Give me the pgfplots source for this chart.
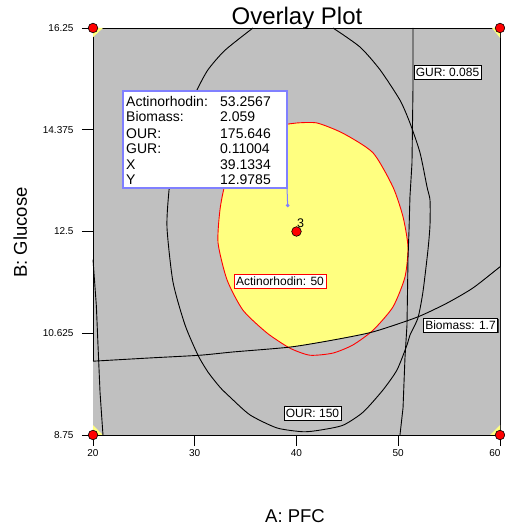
\documentclass[border=0pt]{standalone}
\usepackage{fontspec}
\setmainfont{Liberation Sans}
\usepackage{pgfplots}
\pgfplotsset{compat=1.18}
\usetikzlibrary{shadows}
\definecolor{bg}{RGB}{192,192,192}
\definecolor{yel}{RGB}{255,255,128}
\definecolor{tipblue}{RGB}{128,128,255}
\begin{document}
\begin{tikzpicture}[x=1pt,y=1pt]
\useasboundingbox (0,0) rectangle (504,527);
\begin{axis}[at={(93pt,92pt)}, anchor=south west,
  width=407pt, height=407pt, scale only axis,
  xmin=20, xmax=60, ymin=8.75, ymax=16.25, clip=false,
  axis background/.style={fill=bg},
  xtick={20,30,40,50,60}, xticklabels={20,30,40,50,\hspace*{-10pt}60},
  ytick={8.75,10.625,12.5,14.375,16.25},
  yticklabels={8.75,10.625,12.5,14.375,16.25},
  tick align=outside, tick pos=left, major tick length=11pt,
  tick style={black, line width=0.8pt},
  ticklabel style={font=\fontsize{10}{12}\selectfont},
  yticklabel style={xshift=-5pt},
  axis line style={line width=0.8pt}]
% yellow feasible region (inside Actinorhodin 50)
\addplot[fill=yel, draw=none, smooth, tension=0.4] coordinates {
(40.05,14.50) (42.01,14.50) (44.57,14.31) (47.52,13.95) (49.48,13.32) (50.47,12.77) (50.96,12.21) (50.66,11.66) (49.48,11.11) (47.52,10.68) (45.55,10.41) (43.59,10.26) (41.33,10.22) (39.36,10.35) (37.10,10.63) (34.74,11.05) (33.17,11.61) (32.29,12.29) (32.48,12.90) (32.97,13.36) (34.05,13.82) (35.92,14.22) (38.08,14.44) (40.05,14.50)} -- cycle;
% grey below biomass 1.7
\addplot[fill=bg, draw=none] coordinates {
(20,10.11) (25.60,10.17) (30.52,10.22) (33.76,10.28) (39.36,10.37) (43.59,10.50) (47.52,10.65) (51.84,10.92) (54.79,11.18) (57.35,11.46) (60,11.85) (60,8.75) (20,8.75)} -- cycle;
% corner triangles
\addplot[fill=yel, draw=none] coordinates {(20,16.25) (20.98,16.25) (20,16.08)} -- cycle;
\addplot[fill=yel, draw=none] coordinates {(59.21,16.25) (60,16.25) (60,16.07)} -- cycle;
\addplot[fill=yel, draw=none] coordinates {(20,8.93) (20,8.75) (20.98,8.75)} -- cycle;
\addplot[fill=yel, draw=none] coordinates {(60,8.93) (60,8.75) (59.02,8.75)} -- cycle;
% Actinorhodin 50 contour
\addplot[red, line width=0.9pt, smooth, tension=0.4] coordinates {
(40.05,14.50) (42.01,14.50) (44.57,14.31) (47.52,13.95) (49.48,13.32) (50.47,12.77) (50.96,12.21) (50.66,11.66) (49.48,11.11) (47.52,10.68) (45.55,10.41) (43.59,10.26) (41.33,10.22) (39.36,10.35) (37.10,10.63) (34.74,11.05) (33.17,11.61) (32.29,12.29) (32.48,12.90) (32.97,13.36) (34.05,13.82) (35.92,14.22) (38.08,14.44) (40.05,14.50)};
% Biomass 1.7
\addplot[black, line width=0.9pt, smooth, tension=0.4] coordinates {
(20,10.11) (25.60,10.17) (30.52,10.22) (33.76,10.28) (39.36,10.37) (43.59,10.50) (47.52,10.65) (51.84,10.92) (54.79,11.18) (57.35,11.46) (60,11.85)};
% OUR 150
\addplot[black, line width=0.9pt, smooth, tension=0.4] coordinates {
(35.72,16.25) (32.97,15.84) (31.30,15.48) (30.22,15.11) (29.34,14.74) (28.55,14.28) (27.86,13.82) (27.47,13.26) (27.27,12.58) (27.86,11.57) (29.04,10.78) (30.32,10.22) (31.30,9.91) (32.48,9.63) (33.46,9.45) (35.43,9.12) (38.08,8.88) (40.64,8.81) (42.31,8.84) (44.57,8.93) (46.54,9.17) (48.50,9.58) (49.88,9.95) (50.86,10.41) (51.15,10.59) (51.94,10.91) (52.43,11.39) (52.92,12.16) (53.12,12.62) (53.12,13.08) (52.83,13.32) (52.14,13.95) (51.15,14.50) (50.17,14.92) (48.21,15.48) (46.24,15.90) (43.59,16.25)};
% GUR 0.085 (right branch)
\addplot[black, line width=0.9pt] coordinates {
(51.45,16.25) (51.45,15.16) (51.35,13.76) (51.15,13.14) (51.06,12.53) (50.96,12.01) (50.86,10.78) (50.66,10.17) (50.47,9.25) (50.17,8.75)};
% GUR 0.085 (left branch)
\addplot[black, line width=0.9pt] coordinates {
(20,11.98) (20.33,11.13) (20.49,10.41) (20.69,9.54) (20.98,8.75)};
% design points
\addplot[only marks, mark=*, mark size=4.8pt, mark options={fill=red, draw=black, line width=0.6pt}] coordinates {
(20,8.75) (20,16.25) (60,8.75) (60,16.25) (40,12.5)};
% tooltip pointer
\addplot[tipblue, line width=1pt, mark=*, mark size=1.2pt, mark indices={2}] coordinates {(39.07,13.30) (39.13,12.98)};
\end{axis}
% title and axis labels
\node[anchor=base, font=\fontsize{24}{28}\selectfont] at (297,502) {Overlay Plot};
\node[anchor=base, font=\fontsize{18.5}{22}\selectfont] at (295,5) {A: PFC};
\node[anchor=base, rotate=90, font=\fontsize{18.5}{22}\selectfont] at (27,294.5) {B: Glucose};
% point label
\node[anchor=base west, inner sep=0, font=\fontsize{12.5}{14}\selectfont] at (297,299) {3};
% tooltip box
\draw[tipblue, fill=white, line width=1.2pt] (123,436) rectangle (287,339);
\begin{scope}[every node/.style={anchor=base west, inner sep=0, font=\fontsize{14}{16}\selectfont}]
\node at (126,420.3) {Actinorhodin:}; \node at (220,420.3) {53.2567};
\node at (126,405.3) {Biomass:};      \node at (220,405.3) {2.059};
\node at (126,388.7) {OUR:};          \node at (220,388.7) {175.646};
\node at (126,373.7) {GUR:};          \node at (220,373.7) {0.11004};
\node at (126,357) {X};               \node at (220,357) {39.1334};
\node at (126,342) {Y};               \node at (220,342) {12.9785};
\end{scope}
% contour labels
\begin{scope}[every node/.style={draw=black, fill=white, line width=0.6pt, inner xsep=2pt, inner ysep=1.5pt, minimum height=14pt, font=\fontsize{12}{14}\selectfont, drop shadow={shadow xshift=1pt, shadow yshift=-1pt, fill=black!75, opacity=1}}]
\node at (447.5,455) {GUR: 0.085};
\node at (460.5,202) {Biomass: 1.7};
\node at (312.5,114) {OUR: 150};
\node[draw=red] at (280,245.5) {Actinorhodin: 50};
\end{scope}
\end{tikzpicture}
\end{document}
